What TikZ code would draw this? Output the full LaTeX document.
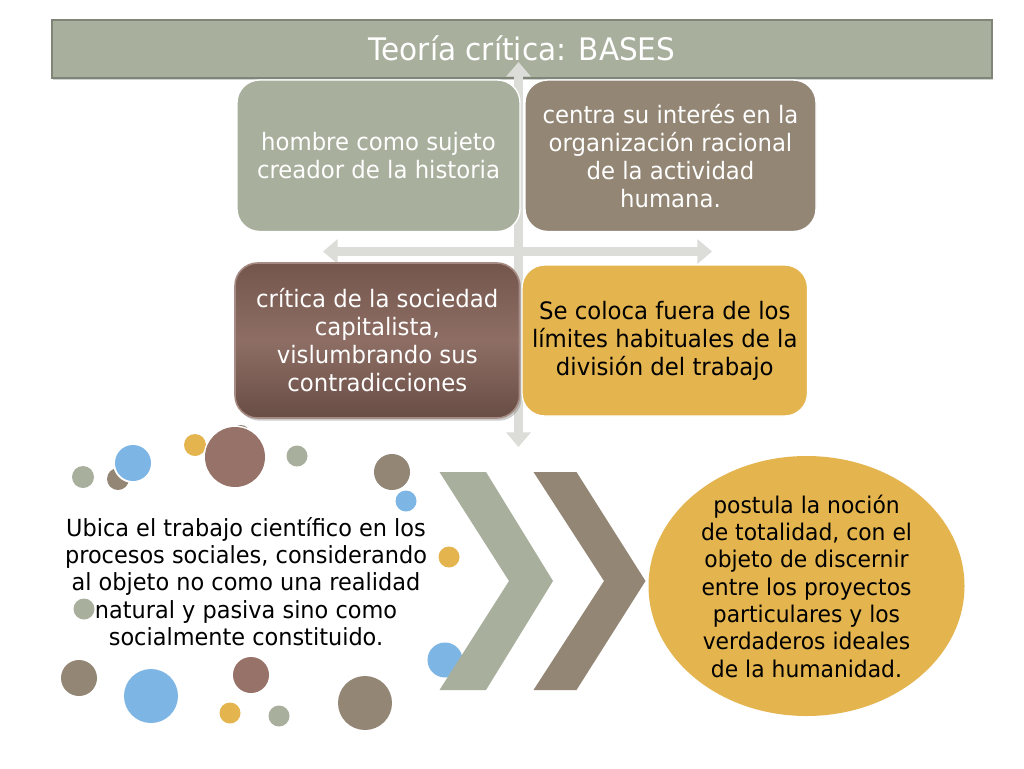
\documentclass[tikz,border=0pt]{standalone}
\usepackage{fontspec}
\setmainfont{DejaVu Sans}[FakeStretch=0.95]
\usetikzlibrary{shadows,arrows.meta,shapes.geometric}
\definecolor{sage}{HTML}{A8AF9C}
\definecolor{taupe}{HTML}{938674}
\definecolor{mauve}{HTML}{977268}
\definecolor{mauvedark}{HTML}{74564D}
\definecolor{mauvelight}{HTML}{8E6E64}
\definecolor{sky}{HTML}{7DB5E4}
\definecolor{gold}{HTML}{E4B44F}
\definecolor{axisgray}{HTML}{DCDDD9}
\definecolor{titleedge}{HTML}{7F8577}
\tikzset{
  titlebar/.style={fill=sage, draw=titleedge, line width=1.5pt, text=white,
    font=\fontsize{23.3}{27}\selectfont, inner sep=0pt,
    drop shadow={shadow xshift=1pt, shadow yshift=-1.5pt, opacity=0.35}},
  axisarrow/.style={draw=axisgray, line width=7pt,
    {Triangle[width=18pt,length=11pt]}-{Triangle[width=18pt,length=11pt]}},
  qbox/.style={rounded corners=17pt, draw=white, line width=1pt, align=center,
    inner sep=0pt, font=\fontsize{18}{21}\selectfont},
  bigtext/.style={align=center, inner sep=0pt, font=\fontsize{17.25}{20.5}\selectfont},
  lefttext/.style={align=center, inner sep=0pt, font=\fontsize{17.7}{20.5}\selectfont}
}
\begin{document}
\begin{tikzpicture}[x=0.75pt,y=-0.75pt]
\useasboundingbox (0,0) rectangle (1024,768);
\fill[white] (0,0) rectangle (1024,768);
% title
\node[titlebar, minimum width=705pt, minimum height=43.5pt] (title) at (522,48.5) {Teoría crítica: BASES};
% axis arrows
\coordinate (vtop) at (518.5,62);
\coordinate (vbot) at (518.5,447);
\coordinate (hl) at (323,251.5);
\coordinate (hr) at (712,251.5);
\draw[axisarrow] (hl) -- (hr);
\draw[axisarrow] (vtop) -- (vbot);
% quadrant boxes
\node[qbox, fill=sage, text=white, minimum width=212.25pt, minimum height=113.6pt] (b1) at (378.5,155.75)
  {hombre como sujeto\\creador de la historia};
\node[qbox, fill=taupe, text=white, minimum width=218.25pt, minimum height=113.6pt] (b2) at (670.5,155.75)
  {centra su interés en la\\organización racional\\de la actividad\\humana.};
\node[qbox, draw=mauvelight!80!white, line width=1.2pt, top color=mauvedark, bottom color=mauvedark!90!black,
  middle color=mauvelight, text=white, minimum width=213.4pt, minimum height=116.25pt,
  drop shadow={shadow xshift=1.5pt, shadow yshift=-2pt, opacity=0.4}] (b3) at (377.25,340.5)
  {crítica de la sociedad\\capitalista,\\vislumbrando sus\\contradicciones};
\node[qbox, fill=gold, text=black, minimum width=214.1pt, minimum height=113.25pt] (b4) at (664.75,340.5)
  {Se coloca fuera de los\\límites habituales de la\\división del trabajo};
% dots
\fill[taupe] (241,434) circle (9);
\fill[sage] (83,477) circle (11);
\fill[taupe] (118,479) circle (11);
\fill[white] (133,463) circle (20);
\fill[sky] (133,463) circle (18);
\fill[gold] (195,445) circle (11);
\fill[white] (235,457) circle (31.5);
\fill[mauve] (235,457) circle (30);
\fill[sage] (297,456) circle (10.5);
\fill[taupe] (392,472) circle (18);
\fill[white] (406,501) circle (11.5);
\fill[sky] (406,501) circle (10.5);
\fill[gold] (449,557) circle (10.5);
\fill[sage] (84,609) circle (10.5);
\fill[sky] (445,660) circle (17.5);
\fill[taupe] (79,678) circle (18);
\fill[sky] (151,696) circle (27);
\fill[mauve] (251,675) circle (18);
\fill[gold] (230,713) circle (10.5);
\fill[sage] (279,716) circle (10.5);
\fill[taupe] (365,703) circle (27);
% chevrons
\fill[sage] (439.5,472) -- (486,472) -- (553,581) -- (486,690) -- (439.5,690) -- (509,581) -- cycle;
\fill[taupe] (533.5,472) -- (576.5,472) -- (645.5,581) -- (576.5,690) -- (533.5,690) -- (604,581) -- cycle;
% bottom text
\node[lefttext, text=black] (left) at (246,581.5)
  {Ubica el trabajo científico en los\\procesos sociales, considerando\\al objeto no como una realidad\\natural y pasiva sino como\\socialmente constituido.};
\node[ellipse, fill=gold, minimum width=237pt, minimum height=195pt, inner sep=0pt] (ell) at (806.5,586) {};
\node[bigtext, text=black] (elltext) at (ell.center)
  {postula la noción\\de totalidad, con el\\objeto de discernir\\entre los proyectos\\particulares y los\\verdaderos ideales\\de la humanidad.};
\end{tikzpicture}
\end{document}
